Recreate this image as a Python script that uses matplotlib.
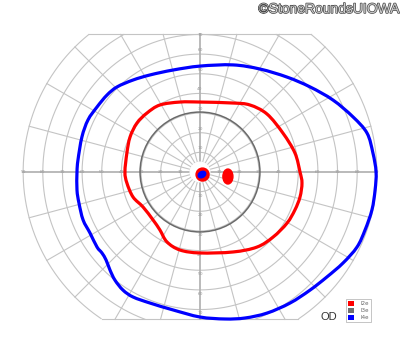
import numpy as np
import matplotlib
matplotlib.use("Agg")
import matplotlib.pyplot as plt
from matplotlib.patches import Ellipse, Patch, PathPatch
from matplotlib.path import Path
import matplotlib.patheffects as pe

# ---- data (degrees of visual field; x = temporal(+)/nasal(-), y = superior(+)) ----
i4e_x = [-62.6, -62.1, -60.1, -57.0, -52.4, -47.3, -42.2, -34.1, -25.4, -13.7, 0.0, 16.8, 30.5,
         44.3, 56.0, 67.7, 77.9, 85.0, 88.0, 89.6, 89.1, 87.5, 84.0, 79.9, 72.8, 64.6, 56.0,
         45.8, 34.1, 22.9, 12.7, 0.0, -13.7, -25.4, -34.1, -39.2, -43.3, -45.8, -47.8, -49.9,
         -52.4, -56.0, -59.5, -61.6, -62.6]
i4e_y = [0.0, 6.1, 17.8, 26.5, 33.1, 39.2, 43.3, 46.8, 49.4, 51.9, 53.9, 54.5, 52.4,
         48.3, 43.3, 36.6, 28.0, 19.8, 9.7, 0.0, -9.2, -19.3, -29.5, -38.2, -46.3, -53.4, -60.1,
         -66.7, -71.8, -74.3, -74.8, -73.8, -70.2, -66.7, -63.6, -60.1, -55.0, -49.9, -44.8, -41.2,
         -38.2, -31.0, -24.4, -15.8, -9.2]

i2e_x = [-38.2, -37.2, -35.6, -32.1, -27.0, -20.4, -10.2, 0.0, 16.8, 25.4, 34.1, 42.2, 48.3,
         50.9, 51.9, 50.9, 48.3, 44.3, 37.2, 29.0, 16.8, 0.0, -10.2, -16.8, -20.4, -23.9,
         -29.0, -34.1, -37.2]
i2e_y = [0.0, 9.7, 17.8, 24.9, 30.0, 34.1, 35.6, 35.6, 35.1, 34.1, 29.5, 19.8, 9.7,
         0.0, -5.6, -12.7, -19.3, -26.0, -33.1, -38.2, -40.7, -41.2, -39.7, -35.6, -29.5, -24.4,
         -17.8, -12.7, -5.6]

i3e_radius = 30.5

# central responses and blind spot (center x, center y, width, height, angle)
central_i2e = (1.3, -1.3, 6.6, 6.6, 0)
central_i4e = (1.0, -1.3, 4.1, 3.0, 30)
blind_spot = (14.2, -2.3, 5.1, 7.6, 0)

ring_radii = [5, 10, 20, 30, 40, 50, 60, 70, 80, 90]
meridians = list(range(0, 360, 15))
label_radii = [10, 20, 30, 40, 50, 60, 70, 80, 90]
top_limit = 70
bottom_limit = -75
outer_limit = 90

legend_labels = ["I2e", "I3e", "I4e"]
legend_colors = ["#ff0000", "#707070", "#0000ff"]


def smooth_closed_path(xs, ys):
    """Closed Catmull-Rom curve through the points, expressed as cubic Bezier segments."""
    p = np.column_stack([xs, ys]).astype(float)
    n = len(p)
    verts = [p[0]]
    codes = [Path.MOVETO]
    for i in range(n):
        p0, p1, p2, p3 = p[i - 1], p[i], p[(i + 1) % n], p[(i + 2) % n]
        c1 = p1 + (p2 - p0) / 6.0
        c2 = p2 - (p3 - p1) / 6.0
        verts += [c1, c2, p2]
        codes += [Path.CURVE4] * 3
    return Path(np.array(verts), codes)


# ---- figure ----
S = 1.965  # pixels per degree
fig = plt.figure(figsize=(4.0, 3.52), dpi=100)
ax = fig.add_axes([0, 0, 1, 1])
ax.set_xlim(-200 / S, 200 / S)
ax.set_ylim(-180 / S, 172 / S)
ax.axis("off")

grid_c = "#c4c4c4"
grid_lw = 0.8

t = np.linspace(0, 2 * np.pi, 721)
for r in ring_radii:
    x = r * np.cos(t)
    y = r * np.sin(t)
    mask = (y > top_limit) | (y < bottom_limit)
    x = np.where(mask, np.nan, x)
    ax.plot(x, y, color=grid_c, lw=grid_lw, zorder=1)

# top & bottom boundaries
for yl in (top_limit, bottom_limit):
    hw = np.sqrt(outer_limit ** 2 - yl ** 2)
    ax.plot([-hw, hw], [yl, yl], color=grid_c, lw=grid_lw, zorder=1)

for m in meridians:
    th = np.deg2rad(m)
    s = np.sin(th)
    rend = outer_limit
    if s > 1e-9:
        rend = min(rend, top_limit / s)
    elif s < -1e-9:
        rend = min(rend, -bottom_limit / -s)
    r0 = 5
    is_axis = m % 90 == 0
    ax.plot([r0 * np.cos(th), rend * np.cos(th)], [r0 * s, rend * s],
            color="#b4b4b4" if is_axis else grid_c, lw=1.3 if is_axis else grid_lw, zorder=1)

lab_kw = dict(fontsize=3.2, color="#999999", ha="center", va="center", zorder=2)
for r in label_radii:
    ax.text(r, 0, str(r), **lab_kw)
    ax.text(-r, 0, str(r), **lab_kw)
    if r <= 70:
        ax.text(0, min(r + 2, 69.5), str(r), **lab_kw)
        ax.text(0, max(-r - 2, -72), str(r), **lab_kw)

# isopters
ax.add_patch(PathPatch(smooth_closed_path(i4e_x, i4e_y), fill=False, edgecolor="#0000ff",
                       lw=2.3, joinstyle="round", zorder=5))
ax.add_patch(PathPatch(smooth_closed_path(i2e_x, i2e_y), fill=False, edgecolor="#ff0000",
                       lw=2.3, joinstyle="round", zorder=5))
ax.add_patch(plt.Circle((0, 0), i3e_radius, fill=False, color="#6a6a6a", lw=1.1, zorder=4))

ax.add_patch(Ellipse((0, 0), 10, 10, color="white", zorder=3))
for (cx, cy, w, h, a), col in ((central_i2e, "#ff0000"), (central_i4e, "#0000ff"),
                               (blind_spot, "#ff0000")):
    ax.add_patch(Ellipse((cx, cy), w, h, angle=a, color=col, zorder=6))

# legend
handles = [Patch(facecolor=c, edgecolor="none") for c in legend_colors]
leg = ax.legend(handles, legend_labels, loc="upper left",
                bbox_to_anchor=(346 / 400, 1 - 299 / 352), bbox_transform=fig.transFigure,
                fontsize=4, frameon=True, fancybox=False, handlelength=1.0, handleheight=1.0,
                handletextpad=1.2, borderpad=0.35, labelspacing=0.3, borderaxespad=0)
leg.get_frame().set_edgecolor("#aaaaaa")
leg.get_frame().set_linewidth(0.6)
for txt in leg.get_texts():
    txt.set_color("#666666")

fig.text(329 / 400, 1 - 317 / 352, "OD", fontsize=8, color="#333333",
         ha="center", va="center", family="Liberation Sans")

fig.text(0.999, 1 - 2 / 352, "©StoneRoundsUIOWA", fontsize=10, color="#cccccc",
         ha="right", va="top", family="Liberation Sans",
         path_effects=[pe.withStroke(linewidth=1.0, foreground="#444444")])

fig.savefig("out.png", dpi=100)
